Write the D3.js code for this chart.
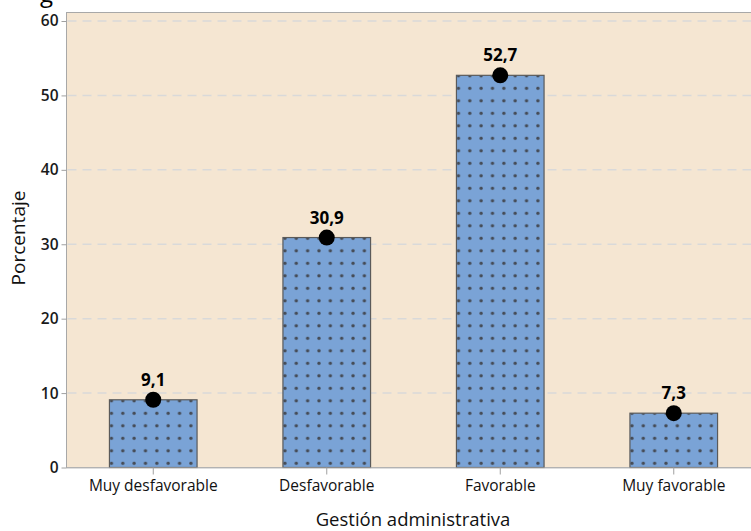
<!DOCTYPE html>
<html><head><meta charset="utf-8">
<script src="https://cdn.jsdelivr.net/npm/d3@7"></script>
<style>body{margin:0;background:#fff}svg{display:block}</style>
</head><body>
<script>
const categories = ["Muy desfavorable","Desfavorable","Favorable","Muy favorable"];
const values = [9.1, 30.9, 52.7, 7.3];
const valueLabels = ["9,1","30,9","52,7","7,3"];
const yTicks = [0,10,20,30,40,50,60];

(function () {
const W = 751, H = 531;
const font = "'Open Sans', 'Noto Sans', sans-serif";
const svg = d3.select("body").append("svg").attr("width", W).attr("height", H);
const pL = 66.5, pR = 760.5, pT = 12.5, pB = 467.5;
const x = d3.scaleBand().domain(categories).range([pL, pR]).paddingInner(0.495).paddingOuter(0.2475);
const y = d3.scaleLinear().domain([0, 60]).range([pB, 21]);

// cut-off title descender (as in the reference)
svg.append("text").attr("x", 40).attr("y", 2).attr("font-family", font).attr("font-size", 24).attr("fill", "#000").text("g");

svg.append("rect").attr("x", pL).attr("y", pT).attr("width", pR - pL).attr("height", pB - pT)
  .attr("fill", "#f5e6d2").attr("stroke", "#a8a8a8").attr("stroke-width", 1);

// gridlines
svg.append("g").selectAll("line").data(yTicks.filter(t => t > 0)).join("line")
  .attr("x1", pL + 1).attr("x2", pR).attr("y1", d => y(d)).attr("y2", d => y(d))
  .attr("stroke", "#d9d9d9").attr("stroke-width", 1.5).attr("stroke-dasharray", "9,6");

// patterns per bar
const defs = svg.append("defs");
categories.forEach((c, i) => {
  const bx = x(c);
  const p = defs.append("pattern").attr("id", "pat" + i).attr("patternUnits", "userSpaceOnUse")
    .attr("x", bx + 2 - 5.7).attr("y", pB - 4.2 - 6.25).attr("width", 11.35).attr("height", 12.5);
  p.append("rect").attr("width", 11.35).attr("height", 12.5).attr("fill", "#7aa3d6");
  p.append("circle").attr("cx", 5.7).attr("cy", 6.25).attr("r", 1.7).attr("fill", "#454b55");
});

svg.append("g").selectAll("rect").data(values).join("rect")
  .attr("x", (d, i) => x(categories[i])).attr("y", d => y(d))
  .attr("width", x.bandwidth()).attr("height", d => pB - y(d))
  .attr("fill", (d, i) => "url(#pat" + i + ")").attr("stroke", "#5a5a5a").attr("stroke-width", 1.2);

svg.append("line").attr("x1", pL).attr("x2", pR).attr("y1", pB + 0.5).attr("y2", pB + 0.5)
  .attr("stroke", "#bdbdbd").attr("stroke-width", 1);

// y axis
const ya = svg.append("g").attr("transform", `translate(${pL},0)`)
  .call(d3.axisLeft(y).tickValues(yTicks).tickSize(5).tickPadding(3).tickFormat(d3.format("d")));
ya.select(".domain").remove();
ya.selectAll("line").attr("stroke", "#a0a0a0");
ya.selectAll("text").attr("font-family", font).attr("font-size", 15.5).attr("font-weight", 600).attr("fill", "#1a1a1a");

// x axis
const xa = svg.append("g").attr("transform", `translate(0,${pB})`)
  .call(d3.axisBottom(x).tickSize(7).tickPadding(5));
xa.select(".domain").remove();
xa.selectAll("line").attr("stroke", "#a0a0a0");
xa.selectAll("text").attr("font-family", font).attr("font-size", 15.5).attr("fill", "#111");

// dots
svg.append("g").selectAll("circle").data(values).join("circle")
  .attr("cx", (d, i) => x(categories[i]) + x.bandwidth() / 2).attr("cy", d => y(d))
  .attr("r", 8).attr("fill", "#000");

// value labels
svg.append("g").selectAll("text").data(values).join("text")
  .attr("x", (d, i) => x(categories[i]) + x.bandwidth() / 2).attr("y", d => y(d) - 14)
  .attr("text-anchor", "middle").attr("font-family", font).attr("font-size", 17).attr("font-weight", 700)
  .attr("fill", "#000").text((d, i) => valueLabels[i]);

// axis titles
svg.append("text").attr("x", 413).attr("y", 525.5).attr("text-anchor", "middle")
  .attr("font-family", font).attr("font-size", 18.5).attr("fill", "#111").text("Gestión administrativa");
svg.append("text").attr("transform", "translate(25,238) rotate(-90)").attr("text-anchor", "middle")
  .attr("font-family", font).attr("font-size", 19).attr("fill", "#111").text("Porcentaje");
})();
</script>
</body></html>
